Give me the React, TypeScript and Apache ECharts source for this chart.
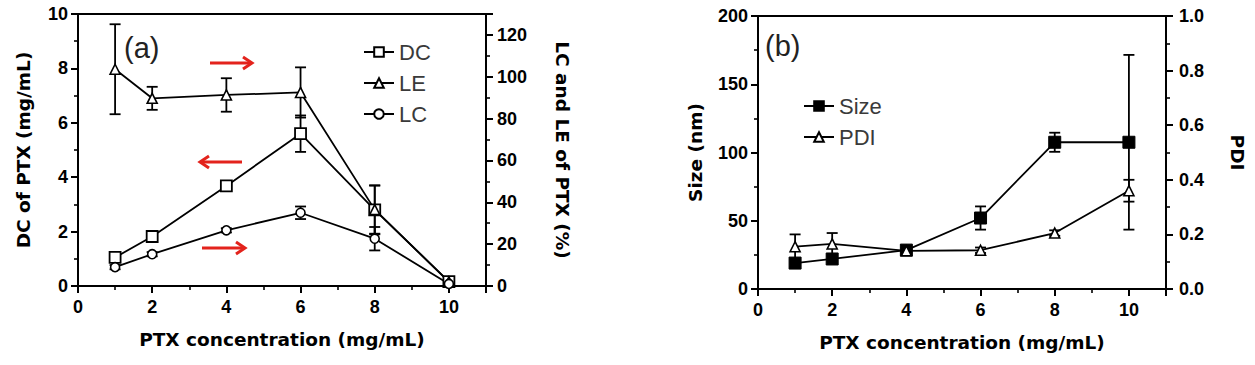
import React, { useEffect, useRef } from "react";
import * as echarts from "echarts";

const xValues = [1, 2, 4, 6, 8, 10];
// panel (a)
const dcValues = [1.05, 1.82, 3.68, 5.6, 2.8, 0.16];
const dcErr = [0.15, 0.1, 0.15, 0.67, 0.9, 0.05];
const leValues = [103.6, 89.7, 91.3, 92.5, 36.5, 2];
const leErr = [21.5, 5.5, 8, 12, 11.5, 0.5];
const lcValues = [9, 15.2, 26.6, 35, 22.6, 1];
const lcErr = [1, 1, 1, 3, 5.6, 0.5];
// panel (b)
const sizeValues = [19, 22, 28.5, 52, 107.5, 107.5];
const sizeErr = [3, 2, 2, 8.5, 7, 64];
const pdiValues = [0.155, 0.165, 0.14, 0.142, 0.205, 0.36];
const pdiErr = [0.045, 0.04, 0.01, 0.01, 0.01, 0.04];

const FONT = "Liberation Sans, Arial, sans-serif";
const TITLE_FONT = "DejaVu Sans, sans-serif";

const pairs = (vals: number[]) => xValues.map((x, i) => [x, vals[i]]);
const errData = (vals: number[], errs: number[]) =>
  xValues.map((x, i) => [x, vals[i], errs[i]]);

function errorSeries(vals: number[], errs: number[], xi: number, yi: number) {
  return {
    type: "custom",
    xAxisIndex: xi,
    yAxisIndex: yi,
    z: 1,
    silent: true,
    data: errData(vals, errs),
    renderItem: (params: any, api: any) => {
      const x = api.value(0);
      const y = api.value(1);
      const e = api.value(2);
      const top = api.coord([x, y + e]);
      const bot = api.coord([x, y - e]);
      const hw = 5.5;
      const style = { stroke: "#000", lineWidth: 1.8 };
      return {
        type: "group",
        children: [
          { type: "line", shape: { x1: top[0], y1: top[1], x2: bot[0], y2: bot[1] }, style },
          { type: "line", shape: { x1: top[0] - hw, y1: top[1], x2: top[0] + hw, y2: top[1] }, style },
          { type: "line", shape: { x1: bot[0] - hw, y1: bot[1], x2: bot[0] + hw, y2: bot[1] }, style },
        ],
      };
    },
  };
}

function arrow(x1: number, x2: number, y: number) {
  const dir = x2 > x1 ? 1 : -1;
  const color = "#e3231c";
  return {
    type: "group",
    children: [
      { type: "line", shape: { x1, y1: y, x2: x2 - dir * 2, y2: y }, style: { stroke: color, lineWidth: 3 } },
      {
        type: "polyline",
        shape: { points: [[x2 - dir * 9, y - 6], [x2, y], [x2 - dir * 9, y + 6]] },
        style: { stroke: color, lineWidth: 3, fill: "none" },
      },
    ],
  };
}

const axisLine = { show: true, lineStyle: { color: "#000", width: 2 } };
const axisTick = { show: true, inside: false, length: 7, lineStyle: { color: "#000", width: 2 } };
const minorTick = { show: true, splitNumber: 2, length: 4, lineStyle: { color: "#000", width: 1.6 } };
const labelStyle = { color: "#000", fontWeight: "bold", fontSize: 18, fontFamily: FONT };
const nameStyle = { color: "#000", fontWeight: "bold", fontSize: 18.5, fontFamily: TITLE_FONT };

function xAxisFor(gi: number) {
  return {
    gridIndex: gi,
    type: "value",
    min: 0,
    max: 11,
    interval: 2,
    axisLine,
    axisTick,
    minorTick,
    splitLine: { show: false },
    axisLabel: { ...labelStyle, showMaxLabel: false, margin: 12 },
    name: "PTX concentration (mg/mL)",
    nameLocation: "middle",
    nameGap: 44,
    nameTextStyle: nameStyle,
  };
}

function yAxisFor(gi: number, pos: string, min: number, max: number, interval: number, name: string, gap: number, rot: number, margin: number, showMax: boolean, fmt?: (v: number) => string) {
  return {
    gridIndex: gi,
    type: "value",
    position: pos,
    min,
    max,
    interval,
    axisLine,
    axisTick,
    minorTick,
    splitLine: { show: false },
    axisLabel: { ...labelStyle, showMaxLabel: showMax, margin, formatter: fmt },
    name,
    nameLocation: "middle",
    nameGap: gap,
    nameRotate: rot,
    nameTextStyle: nameStyle,
  };
}

export default function App() {
  const ref = useRef<HTMLDivElement>(null);
  useEffect(() => {
    document.body.style.margin = "0";
    if (!ref.current) return;
    const chart = echarts.init(ref.current, undefined, { renderer: "svg" });
    const lineCommon = { type: "line", z: 2, lineStyle: { color: "#000", width: 1.8 } };
    const legendText = { fontSize: 22, color: "#3a3a3a", fontFamily: FONT };
    chart.setOption({
      animation: false,
      backgroundColor: "#fff",
      grid: [
        { left: 78, top: 14, width: 408, height: 272, show: true, borderColor: "#000", borderWidth: 2, backgroundColor: "transparent" },
        { left: 758, top: 16, width: 408, height: 273, show: true, borderColor: "#000", borderWidth: 2, backgroundColor: "transparent" },
      ],
      xAxis: [xAxisFor(0), xAxisFor(1)],
      yAxis: [
        yAxisFor(0, "left", 0, 10, 2, "DC of PTX (mg/mL)", 45, 90, 10, true),
        yAxisFor(0, "right", 0, 130, 20, "LC and LE of PTX (%)", 67, -90, 11, false),
        yAxisFor(1, "left", 0, 200, 50, "Size (nm)", 53, 90, 10, true),
        yAxisFor(1, "right", 0, 1, 0.2, "PDI", 62, -90, 13, true, (v: number) => v.toFixed(1)),
      ],
      legend: [
        {
          left: 358,
          top: 36,
          orient: "vertical",
          itemWidth: 30,
          itemHeight: 12,
          itemGap: 9,
          textStyle: legendText,
          data: ["DC", "LE", "LC"],
        },
        {
          left: 798,
          top: 90,
          orient: "vertical",
          itemWidth: 30,
          itemHeight: 12,
          itemGap: 9,
          textStyle: legendText,
          data: ["Size", "PDI"],
        },
      ],
      series: [
        errorSeries(dcValues, dcErr, 0, 0),
        errorSeries(leValues, leErr, 0, 1),
        errorSeries(lcValues, lcErr, 0, 1),
        errorSeries(sizeValues, sizeErr, 1, 2),
        errorSeries(pdiValues, pdiErr, 1, 3),
        {
          ...lineCommon,
          name: "DC",
          xAxisIndex: 0,
          yAxisIndex: 0,
          symbol: "rect",
          symbolSize: 11,
          itemStyle: { color: "#fff", borderColor: "#000", borderWidth: 1.8 },
          data: pairs(dcValues),
        },
        {
          ...lineCommon,
          name: "LE",
          xAxisIndex: 0,
          yAxisIndex: 1,
          symbol: "triangle",
          symbolSize: 10,
          itemStyle: { color: "#fff", borderColor: "#000", borderWidth: 1.6 },
          data: pairs(leValues),
        },
        {
          ...lineCommon,
          name: "LC",
          xAxisIndex: 0,
          yAxisIndex: 1,
          symbol: "circle",
          symbolSize: 9,
          itemStyle: { color: "#fff", borderColor: "#000", borderWidth: 1.6 },
          data: pairs(lcValues),
        },
        {
          ...lineCommon,
          name: "Size",
          xAxisIndex: 1,
          yAxisIndex: 2,
          symbol: "rect",
          symbolSize: 12,
          itemStyle: { color: "#000", borderColor: "#000", borderWidth: 1 },
          data: pairs(sizeValues),
        },
        {
          ...lineCommon,
          name: "PDI",
          xAxisIndex: 1,
          yAxisIndex: 3,
          symbol: "triangle",
          symbolSize: 10,
          itemStyle: { color: "#fff", borderColor: "#000", borderWidth: 1.6 },
          data: pairs(pdiValues),
        },
      ],
      graphic: [
        { type: "text", left: 124, top: 33, style: { text: "(a)", fontSize: 29, fill: "#222", fontFamily: FONT } },
        { type: "text", left: 765, top: 31, style: { text: "(b)", fontSize: 29, fill: "#222", fontFamily: FONT } },
        arrow(210, 252, 63),
        arrow(242, 200, 162),
        arrow(202, 245, 248),
      ],
    });
    return () => chart.dispose();
  }, []);
  return <div ref={ref} style={{ width: 1255, height: 365 }} />;
}
